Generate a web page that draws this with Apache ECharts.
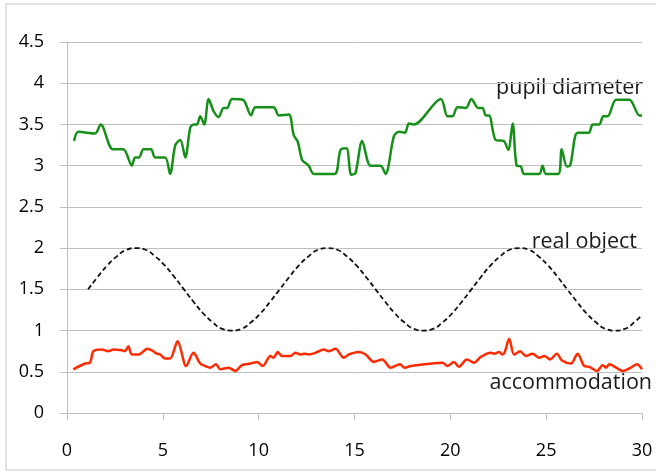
<!DOCTYPE html>
<html>
<head>
<meta charset="utf-8">
<title>pupil / accommodation</title>
<script src="https://cdn.jsdelivr.net/npm/echarts@6/dist/echarts.min.js"></script>
<style>
  html, body, #container { width: 100%; height: 100%; margin: 0; padding: 0; background: #fff; }
</style>
</head>
<body>
<div id="container"></div>
<script>
// pupil diameter (green)
var pupilX = [0.37,0.59,1.46,1.76,2.39,2.94,3.38,3.55,3.76,3.99,4.38,4.60,5.12,5.38,5.65,5.91,6.17,6.43,6.60,6.78,6.95,7.16,7.39,7.65,7.91,8.17,8.35,8.61,9.18,9.60,9.83,10.78,11.05,11.57,11.83,12.04,12.27,12.61,12.88,13.96,14.27,14.58,14.83,15.05,15.40,15.84,16.36,16.62,17.06,17.32,17.63,17.84,18.10,19.50,19.85,20.11,20.37,20.81,21.10,21.45,21.68,21.85,22.02,22.37,22.78,23.02,23.25,23.46,23.68,23.85,24.64,24.81,24.99,25.63,25.81,26.08,26.26,26.64,27.22,27.43,27.77,27.98,28.21,28.65,29.34,29.86,30.0];
var pupilY = [3.30,3.41,3.39,3.50,3.20,3.20,3.00,3.10,3.10,3.20,3.20,3.10,3.10,2.90,3.25,3.31,3.10,3.46,3.50,3.50,3.60,3.50,3.81,3.66,3.59,3.70,3.70,3.81,3.80,3.61,3.71,3.71,3.61,3.62,3.37,3.29,3.07,3.00,2.90,2.90,3.19,3.21,2.89,2.91,3.30,3.00,3.00,2.90,3.36,3.41,3.40,3.51,3.50,3.81,3.60,3.60,3.71,3.70,3.81,3.70,3.70,3.61,3.61,3.31,3.30,3.19,3.51,3.00,2.99,2.90,2.90,3.00,2.90,2.90,3.20,2.99,3.01,3.40,3.40,3.50,3.50,3.60,3.60,3.80,3.80,3.61,3.61];

// real object (black dashed)
var objX = [1.1,1.6,2.1,2.6,3.1,3.6,4.1,4.6,5.1,5.6,6.1,6.6,7.1,7.6,8.1,8.6,9.1,9.6,10.1,10.6,11.1,11.6,12.1,12.6,13.1,13.6,14.1,14.6,15.1,15.6,16.1,16.6,17.1,17.6,18.1,18.6,19.1,19.6,20.1,20.6,21.1,21.6,22.1,22.6,23.1,23.6,24.1,24.6,25.1,25.6,26.1,26.6,27.1,27.6,28.1,28.6,29.1,29.6,30.0];
var objY = [1.50,1.65,1.79,1.90,1.98,2.00,1.98,1.90,1.79,1.65,1.50,1.35,1.21,1.10,1.02,1.00,1.02,1.10,1.21,1.35,1.50,1.65,1.79,1.90,1.98,2.00,1.98,1.90,1.79,1.65,1.50,1.35,1.21,1.10,1.02,1.00,1.02,1.10,1.21,1.35,1.50,1.65,1.79,1.90,1.98,2.00,1.98,1.90,1.79,1.65,1.50,1.35,1.21,1.10,1.02,1.00,1.02,1.10,1.19];

// accommodation (red)
var accX = [0.33,0.94,1.20,1.38,1.81,2.16,2.42,2.86,3.03,3.20,3.38,3.73,4.20,4.43,4.69,4.86,5.12,5.38,5.77,6.22,6.60,6.95,7.21,7.48,7.77,8.00,8.43,8.78,9.13,9.57,9.92,10.21,10.61,10.78,10.99,11.22,11.66,11.92,12.18,12.44,12.61,12.96,13.40,13.66,14.01,14.44,14.70,15.23,15.58,16.01,16.45,16.88,17.37,17.62,17.93,19.59,19.85,20.19,20.45,20.86,21.24,21.59,22.11,22.29,22.55,22.72,22.84,23.07,23.33,23.64,23.94,24.29,24.64,24.90,25.21,25.56,25.81,26.29,26.64,26.99,27.25,27.65,27.95,28.12,28.30,28.65,29.00,29.34,29.74,30.0];
var accY = [0.53,0.60,0.61,0.75,0.77,0.75,0.77,0.76,0.75,0.81,0.71,0.71,0.78,0.76,0.72,0.71,0.66,0.66,0.87,0.57,0.73,0.60,0.57,0.55,0.59,0.53,0.55,0.51,0.58,0.60,0.62,0.57,0.69,0.67,0.74,0.69,0.69,0.73,0.71,0.72,0.71,0.73,0.77,0.75,0.78,0.67,0.71,0.74,0.71,0.62,0.65,0.55,0.59,0.55,0.57,0.61,0.57,0.62,0.56,0.65,0.61,0.68,0.73,0.72,0.74,0.71,0.74,0.90,0.71,0.75,0.69,0.72,0.67,0.69,0.65,0.72,0.64,0.60,0.72,0.57,0.56,0.51,0.58,0.55,0.59,0.55,0.51,0.54,0.59,0.53];

var xTicks = [0, 5, 10, 15, 20, 25, 30];
var yTicks = [0, 0.5, 1, 1.5, 2, 2.5, 3, 3.5, 4, 4.5];

function pairs(xs, ys) {
  var out = [];
  for (var i = 0; i < xs.length; i++) out.push([xs[i], ys[i]]);
  return out;
}

var font = "'Open Sans', 'Noto Sans CJK JP', sans-serif";
var gray = '#bfbfbf';

var chart = echarts.init(document.getElementById('container'));
chart.setOption({
  animation: false,
  backgroundColor: '#fff',
  grid: { left: 67, right: 14, top: 42, bottom: 59 },
  xAxis: {
    type: 'value', min: xTicks[0], max: xTicks[xTicks.length - 1], interval: 5,
    axisLine: { show: true, lineStyle: { color: gray, width: 1 } },
    axisTick: { show: true, inside: false, length: 7, lineStyle: { color: gray } },
    axisLabel: { color: '#000', fontSize: 18, fontFamily: font, margin: 29 },
    splitLine: { show: false }
  },
  yAxis: {
    type: 'value', min: yTicks[0], max: yTicks[yTicks.length - 1], interval: 0.5,
    axisLine: { show: true, lineStyle: { color: gray, width: 1 } },
    axisTick: { show: true, inside: false, length: 7, lineStyle: { color: gray } },
    axisLabel: { color: '#000', fontSize: 18, fontFamily: font, margin: 23 },
    splitLine: { show: true, lineStyle: { color: gray, width: 1 } }
  },
  series: [
    {
      name: 'pupil diameter', type: 'line', data: pairs(pupilX, pupilY),
      smooth: 0.3, showSymbol: false,
      lineStyle: { color: '#17901a', width: 2.5 }
    },
    {
      name: 'real object', type: 'line', data: pairs(objX, objY),
      smooth: true, showSymbol: false,
      lineStyle: { color: '#111', width: 1.8, type: [5, 3] }
    },
    {
      name: 'accommodation', type: 'line', data: pairs(accX, accY),
      smooth: 0.3, showSymbol: false,
      lineStyle: { color: '#ff2a00', width: 2.5 }
    }
  ],
  graphic: [
    { type: 'rect', shape: { x: 6, y: 4, width: 700, height: 466 }, silent: true, z: -1,
      style: { fill: null, stroke: '#d9d9d9', lineWidth: 1.5 } },
    { type: 'text', x: 643, y: 88, style: { text: 'pupil diameter', align: 'right', verticalAlign: 'middle', fontSize: 21.5, fontFamily: font, fill: '#1a1a1a' } },
    { type: 'text', x: 637, y: 242, style: { text: 'real object', align: 'right', verticalAlign: 'middle', fontSize: 21.5, fontFamily: font, fill: '#1a1a1a' } },
    { type: 'text', x: 652, y: 383, style: { text: 'accommodation', align: 'right', verticalAlign: 'middle', fontSize: 21.5, fontFamily: font, fill: '#1a1a1a' } }
  ]
});
</script>
</body>
</html>
